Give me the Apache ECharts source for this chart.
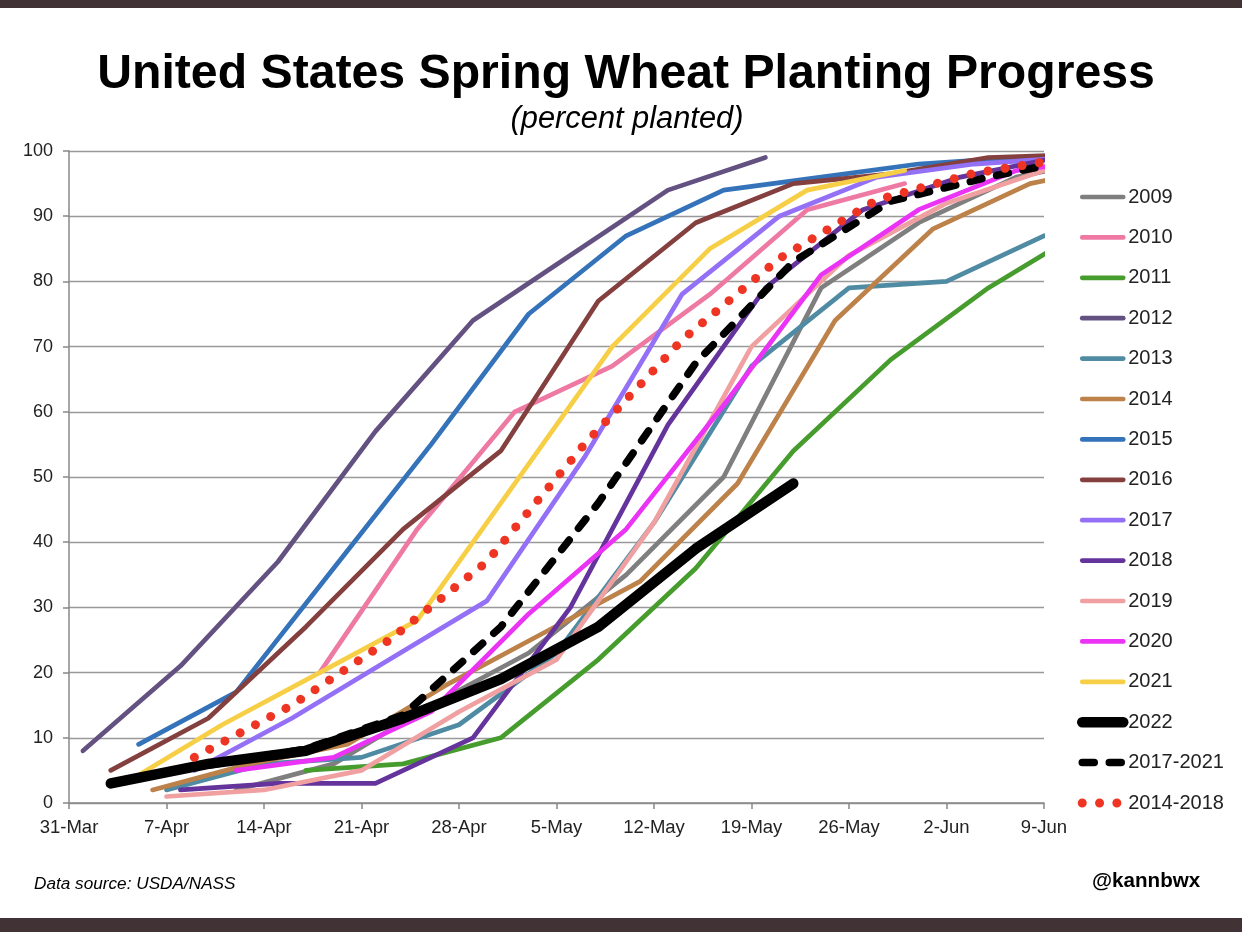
<!DOCTYPE html>
<html>
<head>
<meta charset="utf-8">
<title>United States Spring Wheat Planting Progress</title>
<script src="https://cdn.jsdelivr.net/npm/echarts@6/dist/echarts.min.js"></script>
<style>
    html, body {margin: 0; padding: 0; background: #fff;}
    #chart {width: 1242px; height: 932px;}
</style>
</head>
<body>
<div id="chart"></div>
<script>
// x is days since 31-Mar, every series is weekly from its first day
const tickLabels = ['31-Mar', '7-Apr', '14-Apr', '21-Apr', '28-Apr', '5-May', '12-May', '19-May', '26-May', '2-Jun', '9-Jun'];

const names = ['2009', '2010', '2011', '2012', '2013', '2014', '2015', '2016', '2017', '2018', '2019', '2020', '2021', '2022', '2017-2021', '2014-2018'];
const firstDays = [12, 18, 17, 1, 7, 6, 5, 3, 9, 8, 7, 12, 4, 3, 10, 9];

const y2009 = [2, 6, 15, 23, 35, 50, 79, 89, 96, 99];
const y2010 = [20, 42, 60, 67, 78, 91, 95];
const y2011 = [5, 6, 10, 22, 36, 54, 68, 79, 88];
const y2012 = [8, 21, 37, 57, 74, 84, 94, 99];
const y2013 = [2, 6, 7, 12, 23, 43, 67, 79, 80, 87];
const y2014 = [2, 6, 9, 18, 26, 34, 49, 74, 88, 95, 98];
const y2015 = [9, 17, 36, 55, 75, 87, 94, 96, 98, 99, 99.5];
const y2016 = [5, 13, 27, 42, 54, 77, 89, 95, 96.5, 99, 99.5];
const y2017 = [5, 13, 22, 31, 53, 78, 90, 96, 98, 99];
const y2018 = [2, 3, 3, 10, 30, 58, 79, 91, 96, 99];
const y2019 = [1, 2, 5, 14, 22, 43, 70, 84, 92, 97];
const y2020 = [5, 7, 14, 29, 42, 61, 81, 91, 97, 99];
const y2021 = [3, 12, 20, 28, 49, 70, 85, 94, 97];
const y2022 = [3, 6, 8, 13, 19, 27, 39, 49];
const avg5 = [5.8, 8.3, 13.5, 27, 46, 67.5, 83, 92.3, 96, 99];
const avg14 = [7, 15, 25, 37, 55, 71, 83.5, 92.5, 96.6, 99];

const values = [
    y2009, y2010, y2011, y2012, y2013, y2014, y2015, y2016,
    y2017, y2018, y2019, y2020, y2021, y2022, avg5, avg14,
];

const colors = [
    '#7f7f7f', '#ee7aa4', '#479c2e', '#635281', '#4f8ca3', '#bd814a', '#3473b9', '#84403f',
    '#9370f5', '#64339c', '#f0a0a0', '#ea33f5', '#f7cf46', '#000000', '#000000', '#ee3524',
];

const FONT = '"Liberation Sans", Arial, sans-serif';

const lineStyleOf = name => {
    if (name === '2022') {
        return {width: 10.5, cap: 'round', join: 'round'};
    }
    if (name === '2017-2021') {
        return {width: 7.5, type: [12, 15], cap: 'round', join: 'round'};
    }
    if (name === '2014-2018') {
        return {width: 9, type: [0.01, 17.3], cap: 'round', join: 'round'};
    }
    return {width: 4.7, cap: 'round', join: 'round'};
};

const series = names.map((name, i) => ({
    name,
    type: 'line',
    symbol: 'none',
    clip: true,
    silent: true,
    color: colors[i],
    lineStyle: {color: colors[i], ...lineStyleOf(name)},
    data: values[i].map((v, k) => [firstDays[i] + k * 7, v]),
}));

const chart = echarts.init(document.getElementById('chart'));
chart.setOption({
    animation: false,
    backgroundColor: '#ffffff',
    title: [
        {
            text: 'United States Spring Wheat Planting Progress',
            left: 621,
            top: 46,
            textAlign: 'center',
            textStyle: {fontFamily: FONT, fontSize: 48.2, fontWeight: 'bold', color: '#000'},
        },
        {
            text: '(percent planted)',
            left: 622,
            top: 99,
            textAlign: 'center',
            textStyle: {fontFamily: FONT, fontSize: 30.8, fontStyle: 'italic', fontWeight: 'normal', color: '#000'},
        },
    ],
    grid: {left: 69, right: 198, top: 151, bottom: 129},
    xAxis: {
        type: 'value',
        min: 0,
        max: 70,
        interval: 7,
        splitLine: {show: false},
        axisLine: {lineStyle: {color: '#888', width: 1.5}},
        axisTick: {length: 6, lineStyle: {color: '#888', width: 1.5}},
        axisLabel: {
            margin: 15,
            fontFamily: FONT,
            fontSize: 18.5,
            color: '#222',
            formatter: v => tickLabels[v / 7],
        },
    },
    yAxis: {
        type: 'value',
        min: 0,
        max: 100,
        interval: 10,
        splitLine: {lineStyle: {color: '#999', width: 1.3}},
        axisLine: {show: true, lineStyle: {color: '#888', width: 1.5}},
        axisTick: {show: true, length: 6, lineStyle: {color: '#888', width: 1.5}},
        axisLabel: {margin: 16, fontFamily: FONT, fontSize: 18, color: '#222'},
    },
    legend: {
        orient: 'vertical',
        left: 1077,
        top: 187,
        padding: 0,
        itemWidth: 41,
        itemHeight: 14,
        itemGap: 20.4,
        selectedMode: false,
        textStyle: {fontFamily: FONT, fontSize: 20, color: '#222'},
        // the default icon puts a circle on the line, so hide it and keep the line's own style
        data: names.map((name, i) => ({
            name,
            itemStyle: {opacity: 0},
            lineStyle: {color: colors[i], ...lineStyleOf(name)},
        })),
    },
    graphic: [
        {type: 'rect', left: 0, top: 0, z: 100, shape: {width: 1242, height: 8}, style: {fill: '#403235'}},
        {type: 'rect', left: 0, top: 918, z: 100, shape: {width: 1242, height: 14}, style: {fill: '#403235'}},
        // series clip runs half a line width past the axis end
        {type: 'rect', left: 1045, top: 145, z: 100, shape: {width: 15, height: 655}, style: {fill: '#ffffff'}},
        {
            type: 'text',
            left: 34,
            top: 876,
            z: 100,
            style: {text: 'Data source: USDA/NASS', font: `italic 17.2px ${FONT}`, fill: '#000'},
        },
        {
            type: 'text',
            left: 1092,
            top: 871,
            z: 100,
            style: {text: '@kannbwx', font: `bold 20.6px ${FONT}`, fill: '#000'},
        },
    ],
    series,
});
</script>
</body>
</html>
